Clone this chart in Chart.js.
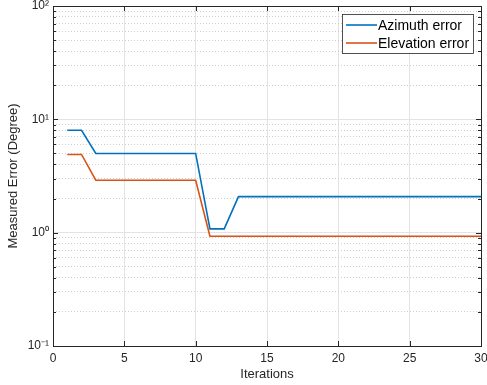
<!DOCTYPE html>
<html>
<head>
<meta charset="utf-8">
<script src="https://cdn.jsdelivr.net/npm/chart.js@4/dist/chart.umd.min.js"></script>
<style>
  html, body { margin: 0; padding: 0; background: #fff; }
  #wrap { width: 487px; height: 385px; }
</style>
</head>
<body>
<div id="wrap"><canvas id="c" width="487" height="385"></canvas></div>
<script>
// data
const iterations = [1,2,3,4,5,6,7,8,9,10,11,12,13,14,15,16,17,18,19,20,21,22,23,24,25,26,27,28,29,30];
const azimuthErr = [8.0,8.0,5.0,5.0,5.0,5.0,5.0,5.0,5.0,5.0,1.08,1.08,2.08,2.08,2.08,2.08,2.08,2.08,2.08,2.08,2.08,2.08,2.08,2.08,2.08,2.08,2.08,2.08,2.08,2.08];
const elevationErr = [4.9,4.9,2.9,2.9,2.9,2.9,2.9,2.9,2.9,2.9,0.93,0.93,0.93,0.93,0.93,0.93,0.93,0.93,0.93,0.93,0.93,0.93,0.93,0.93,0.93,0.93,0.93,0.93,0.93,0.93];
const seriesNames = ['Azimuth error', 'Elevation error'];
const seriesColors = ['#0072BD', '#D95319'];
const xTicks = [0,5,10,15,20,25,30];
const yDecades = [0.1, 1, 10, 100];
const yDecadeLabels = ['10\u207B\u00B9', '10\u2070', '10\u00B9', '10\u00B2'];

// minor ticks 2..9 for every decade
let yTicks = [];
yDecades.forEach((d, i) => {
  yTicks.push(d);
  if (i < yDecades.length - 1) for (let k = 2; k <= 9; k++) yTicks.push(+(d * k).toPrecision(3));
});
const isMajor = v => yDecades.some(d => Math.abs(d - v) < 1e-9);

const FONT = '"Liberation Sans", Arial, sans-serif';
const AXIS = '#262626';

const matlabBits = {
  id: 'matlabBits',
  afterDatasetsDraw(chart) {
    const {ctx, chartArea: a, scales} = chart;
    ctx.save();
    ctx.strokeStyle = AXIS;
    ctx.lineWidth = 1;
    // inward tick marks
    ctx.beginPath();
    xTicks.forEach(v => {
      const x = Math.round(scales.x.getPixelForValue(v)) + 0.5;
      ctx.moveTo(x, a.bottom); ctx.lineTo(x, a.bottom - 5);
      ctx.moveTo(x, a.top); ctx.lineTo(x, a.top + 5);
    });
    yTicks.forEach(v => {
      const y = Math.round(scales.y.getPixelForValue(v)) + 0.5;
      const len = isMajor(v) ? 5 : 3;
      ctx.moveTo(a.left, y); ctx.lineTo(a.left + len, y);
      ctx.moveTo(a.right, y); ctx.lineTo(a.right - len, y);
    });
    ctx.stroke();
    // box
    ctx.strokeRect(Math.round(a.left) + 0.5, Math.round(a.top) + 0.5, Math.round(a.right - a.left), Math.round(a.bottom - a.top));

    // legend
    const lx = 342, ly = 14, lw = 131, lh = 39;
    ctx.fillStyle = '#fff';
    ctx.fillRect(lx, ly, lw, lh);
    ctx.strokeStyle = AXIS;
    ctx.lineWidth = 0.8;
    ctx.strokeRect(lx + 0.5, ly + 0.5, lw, lh);
    ctx.font = '14px ' + FONT;
    ctx.textBaseline = 'middle';
    seriesNames.forEach((n, i) => {
      const y = ly + 11 + i * 18;
      ctx.strokeStyle = seriesColors[i];
      ctx.lineWidth = 1.6;
      ctx.beginPath(); ctx.moveTo(lx + 4, y); ctx.lineTo(lx + 35, y); ctx.stroke();
      ctx.fillStyle = '#000';
      ctx.fillText(n, lx + 36, y + 1);
    });
    ctx.restore();
  }
};

new Chart(document.getElementById('c'), {
  type: 'line',
  data: {
    labels: iterations,
    datasets: seriesNames.map((n, i) => ({
      label: n,
      data: (i === 0 ? azimuthErr : elevationErr).map((v, j) => ({x: iterations[j], y: v})),
      borderColor: seriesColors[i],
      backgroundColor: seriesColors[i],
      borderWidth: 1.6,
      pointRadius: 0,
      tension: 0
    }))
  },
  options: {
    responsive: false,
    animation: false,
    layout: { padding: { top: 6, right: 6, left: 0, bottom: 0 } },
    plugins: { legend: { display: false }, tooltip: { enabled: false } },
    scales: {
      x: {
        type: 'linear',
        min: 0, max: 30,
        afterBuildTicks: s => { s.ticks = xTicks.map(v => ({value: v})); },
        afterFit: s => { s.height = 39; s.paddingLeft = 0; s.paddingRight = 0; },
        grid: { color: '#e3e3e3', lineWidth: 1, drawTicks: false },
        border: { display: false },
        ticks: { color: AXIS, font: { family: FONT, size: 12 }, padding: 5, maxRotation: 0 },
        title: { display: true, text: 'Iterations', color: AXIS, font: { family: FONT, size: 13 }, padding: { top: 0, bottom: 3 } }
      },
      y: {
        type: 'logarithmic',
        min: 0.1, max: 100,
        afterBuildTicks: s => { s.ticks = yTicks.map(v => ({value: v})); },
        afterFit: s => { s.width = 53; s.paddingTop = 0; s.paddingBottom = 0; },
        grid: {
          color: c => isMajor(c.tick.value) ? '#e3e3e3' : '#cfcfcf',
          lineWidth: 1,
          drawTicks: false
        },
        border: {
          display: false,
          dash: c => isMajor(c.tick.value) ? [] : [1, 2]
        },
        ticks: {
          autoSkip: false,
          color: AXIS,
          font: { family: FONT, size: 12 },
          padding: 4,
          callback: v => { const i = yDecades.findIndex(d => Math.abs(d - v) < 1e-9); return i >= 0 ? yDecadeLabels[i] : ''; }
        },
        title: { display: true, text: 'Measured Error (Degree)', color: AXIS, font: { family: FONT, size: 13 }, padding: { top: 6, bottom: 0 } }
      }
    }
  },
  plugins: [matlabBits]
});
</script>
</body>
</html>
